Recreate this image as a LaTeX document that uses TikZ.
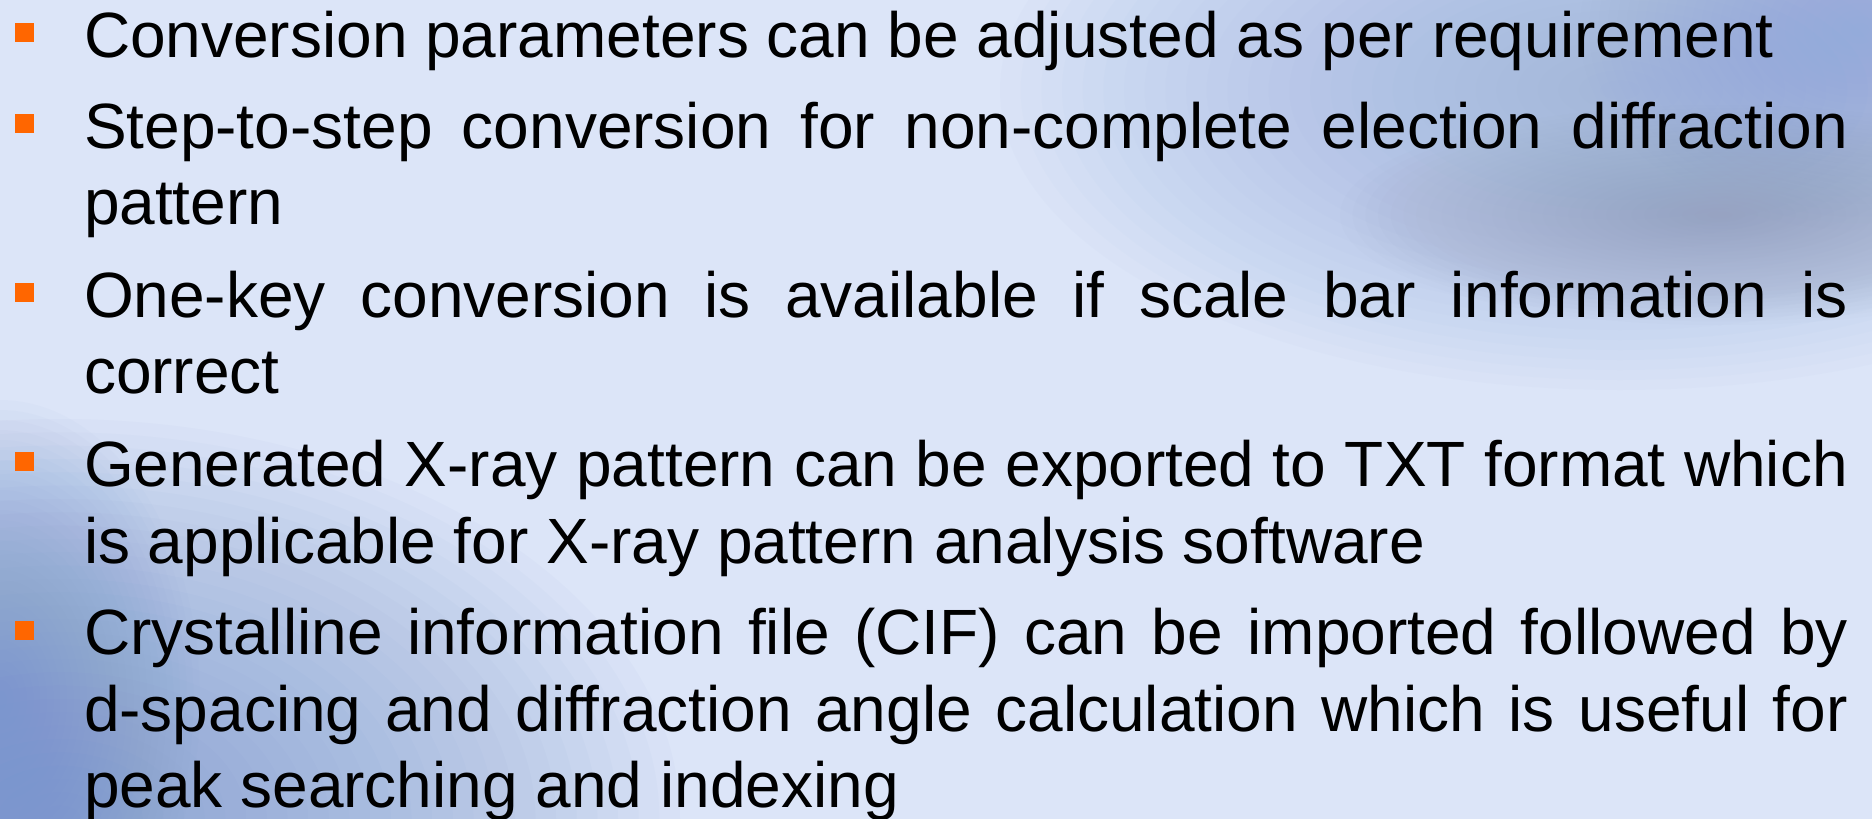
\documentclass[tikz,border=0pt]{standalone}
\usepackage{fontspec}
\setmainfont{Liberation Sans}
\definecolor{bgbase}{HTML}{DCE5F8}
\definecolor{bglav}{HTML}{E8E8FC}
\definecolor{blobA}{HTML}{93ABDA}
\definecolor{blobG}{HTML}{97A2BF}
\definecolor{blobL}{HTML}{7896CE}
\definecolor{bulcol}{HTML}{FF6600}
\tikzset{
  txt/.style={anchor=base west, inner sep=0pt, outer sep=0pt, text=black,
    font=\fontsize{64}{76}\selectfont},
  bul/.style={anchor=north west, fill=bulcol, draw=none, inner sep=0pt,
    minimum width=19pt, minimum height=19pt}
}
\newcommand{\jline}[1]{\makebox[1764pt][s]{#1}}
% soft blob: colour, centre x, centre y, rx, ry, opacity per layer
\newcommand{\softblob}[6]{%
  \foreach \k in {1,...,30}{%
    \fill[#1, fill opacity=#6] (#2,#3) ellipse ({#4/30*\k} and {#5/30*\k});
  }%
}
\begin{document}
\begin{tikzpicture}[x=1pt,y=-1pt]
\useasboundingbox (0,0) rectangle (1872,819);
\begin{scope}
\clip (0,0) rectangle (1872,819);
\fill[bgbase] (0,0) rectangle (1872,819);
\softblob{bglav}{250}{80}{800}{450}{0.05}
% top-right blurred picture
\softblob{blobA}{1620}{90}{620}{300}{0.035}
\softblob{blobA}{1860}{30}{280}{200}{0.03}
\softblob{blobG}{1720}{215}{380}{110}{0.035}
% lower-left blurred picture
\softblob{blobL}{60}{819}{620}{400}{0.04}
\softblob{blobL}{0}{700}{200}{300}{0.03}
\end{scope}

\node[bul] (b1) at (15,23) {};
\node[txt] (l1) at (84,57) {Conversion parameters can be adjusted as per requirement};

\node[bul] (b2) at (15,114) {};
\node[txt] (l2) at (84,148) {\jline{Step-to-step conversion for non-complete election diffraction}};
\node[txt] (l3) at (84,224) {pattern};

\node[bul] (b3) at (15,283) {};
\node[txt] (l4) at (84,317) {\jline{One-key conversion is available if scale bar information is}};
\node[txt] (l5) at (84,393) {correct};

\node[bul] (b4) at (15,452) {};
\node[txt] (l6) at (84,486) {\jline{Generated X-ray pattern can be exported to TXT format which}};
\node[txt] (l7) at (84,563) {is applicable for X-ray pattern analysis software};

\node[bul] (b5) at (15,621) {};
\node[txt] (l8) at (84,654) {\jline{Crystalline information file (CIF) can be imported followed by}};
\node[txt] (l9) at (84,731) {\jline{d-spacing and diffraction angle calculation which is useful for}};
\node[txt] (l10) at (84,807) {peak searching and indexing};
\end{tikzpicture}
\end{document}
